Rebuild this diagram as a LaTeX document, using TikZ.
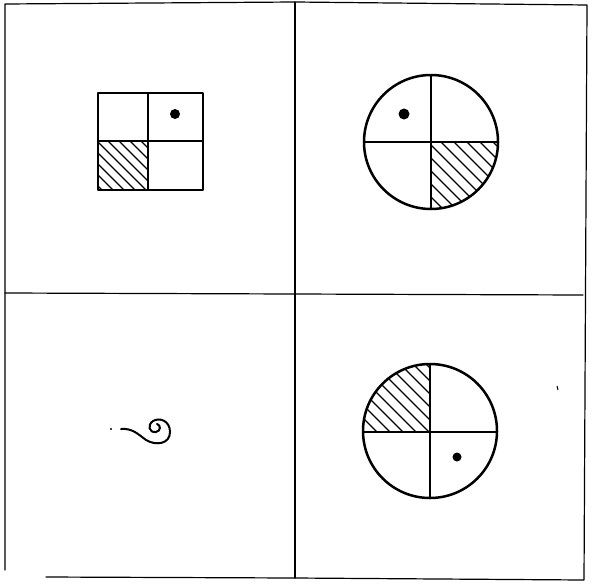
\documentclass[tikz,border=0pt]{standalone}
\begin{document}
\begin{tikzpicture}[x=1pt,y=-1pt,
  framel/.style={line width=1.2pt, line cap=round, line join=round},
  shapel/.style={line width=2.5pt, line join=round},
  hatchl/.style={line width=1.1pt},
  dotf/.style={fill=black}]
\useasboundingbox (0,0) rectangle (593,586);
% frame
\draw[framel] (5,570) -- (5,4) -- (295,2) -- (587,5) -- (584,580) -- (295,578) -- (46,577);
\draw[framel] (295,2) -- (295,578);
\draw[framel] (5,293) -- (583,295);
% square with quadrants
\coordinate (sqa) at (98,93);
\coordinate (sqb) at (203,190);
\begin{scope}
  \clip (98,141) rectangle (148,190);
  \foreach \k in {-66,-55,...,60} {
    \draw[hatchl] (98+\k,141-10) -- (98+\k+70,141+60);
  }
\end{scope}
\draw[shapel] (sqa) rectangle (sqb);
\draw[shapel] (148,93) -- (148,190);
\draw[shapel] (98,141) -- (203,141);
\fill[dotf] (175,114) circle (5);
% top-right circle
\coordinate (ca) at (431,142);
\begin{scope}
  \clip (431,142) rectangle (500,212);
  \clip (ca) circle (67);
  \foreach \k in {-91,-78,...,80} {
    \draw[hatchl] (431+\k,142-10) -- (431+\k+90,142+80);
  }
\end{scope}
\draw[shapel] (ca) circle (67);
\draw[shapel] (364,142) -- (498,142);
\draw[shapel] (431,75) -- (431,209);
\fill[dotf] (404,114) circle (5.5);
% bottom-right circle
\coordinate (cb) at (430,431);
\begin{scope}
  \clip (362,362) rectangle (430,431);
  \clip (cb) circle (67);
  \foreach \k in {-91,-78,...,80} {
    \draw[hatchl] (362+\k,362-10) -- (362+\k+90,362+80);
  }
\end{scope}
\draw[shapel] (cb) circle (67);
\draw[shapel] (363,432) -- (497,432);
\draw[shapel] (430,364) -- (430,498);
\fill[dotf] (457,457) circle (4.5);
% squiggle
\fill[dotf] (111,429) circle (1.2);
\draw[line width=2pt, line cap=round] (121,429) .. controls (132,428) and (138,434) .. (146,440)
  .. controls (156,446) and (170,444) .. (170,432)
  .. controls (170,421) and (160,417) .. (153,421)
  .. controls (147,425) and (149,433) .. (156,432)
  .. controls (161,431) and (161,425) .. (157,424);
% speck
\draw[line width=1pt] (557,386) -- (558,390);
\end{tikzpicture}
\end{document}
